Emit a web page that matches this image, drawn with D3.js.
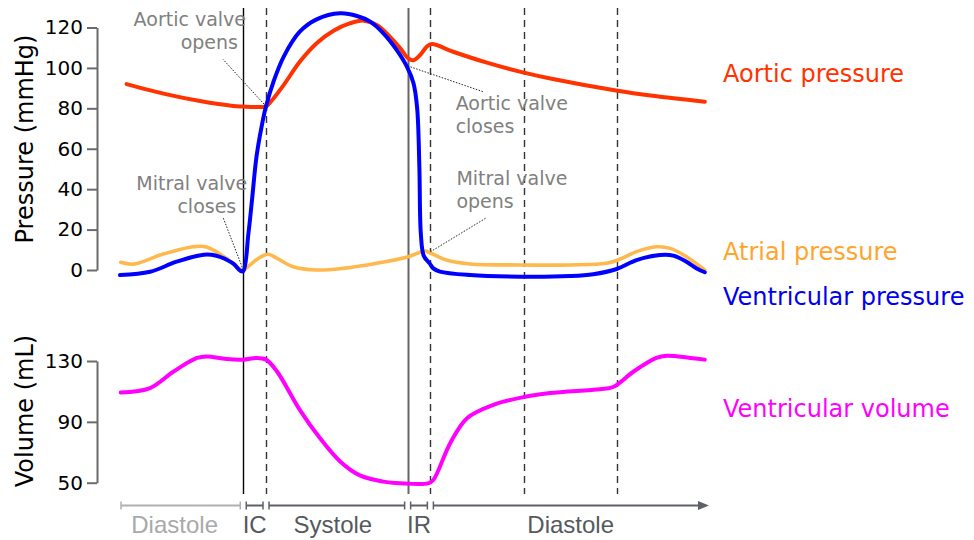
<!DOCTYPE html>
<html>
<head>
<meta charset="utf-8">
<script src="https://cdnjs.cloudflare.com/ajax/libs/d3/7.8.5/d3.min.js"></script>
<style>
  body { margin: 0; background: #fff; }
  svg { display: block; font-family: "DejaVu Sans", sans-serif; }
</style>
</head>
<body>
<svg id="chart" width="974" height="540"></svg>
<script>
// time is in ms from the left edge of the trace, pressure in mmHg, volume in mL

var aorticPressure = [
  [9, 92], [64, 86.9], [109, 83.6], [154, 81.2], [168, 80.9], [184, 80.7], [199, 81],
  [206, 83.5], [223, 91.5], [245, 103], [268, 112.2], [291, 118.4], [313, 122],
  [332, 123.4], [350, 121.2], [368, 115.4], [382, 109.7], [393, 104.7], [400, 103.8],
  [409, 106.4], [418, 110.5], [425, 111.8], [454, 108], [500, 102.6], [549, 97.8],
  [590, 94.5], [676, 88.8], [726, 86.2], [797, 83.3]
];

var ventricularPressure = [
  [0, -2.5], [41, -0.9], [77, 4.1], [114, 7.6], [130, 7.2], [154, 3.3], [164, -0.4], [168, -0.6],
  [175, 18], [180, 35], [186, 56], [193, 71], [199, 81], [209, 93], [223, 105.5],
  [245, 117.9], [268, 124], [300, 127], [323, 125.7], [341, 122.9], [359, 117.1],
  [377, 108.9], [391, 100.6], [400, 92.4], [405, 80], [408, 51], [410, 18], [414, 7],
  [422, 3.3], [427, 0.8], [436, -0.8], [477, -2.5], [545, -3.3], [613, -3.0],
  [645, -2.1], [677, 0.5], [704, 4.9], [736, 7.4], [754, 7.1], [772, 4.1], [786, 0.8], [797, -1.1]
];

var atrialPressure = [
  [1, 3.8], [18, 2.9], [60, 8], [100, 11.5], [118, 11.4], [145, 5.8], [164, 0.4], [168, 0],
  [177, 2.5], [191, 6.3], [202, 7.8], [214, 5.8], [236, 1.6], [268, 0], [304, 0.8],
  [350, 3.3], [393, 6.6], [416, 9.4], [423, 8.4], [445, 4.9], [477, 3.0], [545, 2.5],
  [613, 2.5], [663, 3.3], [681, 5.3], [704, 9.1], [731, 11.5], [750, 10.7], [772, 6.6], [797, 0]
];

var ventricularVolume = [
  [1, 109.3], [41, 112.2], [73, 123.1], [105, 132], [118, 133], [145, 131.3], [168, 130.9],
  [186, 132], [199, 130.9], [214, 123.1], [245, 97.9], [273, 79], [300, 64], [327, 54.8],
  [359, 50.7], [382, 49.6], [420, 49.6], [427, 51.8], [450, 76], [473, 92.4], [509, 101.2],
  [550, 106.3], [586, 108.9], [654, 111.5], [672, 112.9], [700, 123.1], [731, 132],
  [745, 133.5], [777, 132], [797, 130.9]
];

// valve events / phase markers (ms)
var eventTimes = [168, 199, 392, 423, 550, 677];

var phaseNames = ["Diastole", "IC", "Systole", "IR", "Diastole"];
var phaseBounds = [0, 168, 199, 392, 423, 800];

var pressureTicks = [0, 20, 40, 60, 80, 100, 120];
var volumeTicks = [50, 90, 130];

var seriesNames = ["Aortic pressure", "Atrial pressure", "Ventricular pressure", "Ventricular volume"];

var annotations = [
  { lines: ["Aortic valve", "opens"], t: 199, p: 81 },
  { lines: ["Mitral valve", "closes"], t: 168, p: 0 },
  { lines: ["Aortic valve", "closes"], t: 392, p: 101 },
  { lines: ["Mitral valve", "opens"], t: 423, p: 9 }
];

var svg = d3.select("#chart");

var x = d3.scaleLinear().domain([0, 800]).range([120, 707]);
var yP = d3.scaleLinear().domain([0, 120]).range([270, 27.5]);
var yV = d3.scaleLinear().domain([50, 130]).range([482.7, 361]);

var aorticColor = "#ff3300",
    atrialColor = "#ffb84d",
    ventColor = "#0000ff",
    volColor = "#ff00ff";

// --- event lines (behind curves)
svg.append("g").selectAll("line")
  .data(eventTimes)
  .enter()
  .append("line")
  .attr("x1", function(d) { return Math.round(x(d)) + 0.5; })
  .attr("x2", function(d) { return Math.round(x(d)) + 0.5; })
  .attr("y1", 8)
  .attr("y2", 494)
  .attr("stroke", function(d, i) { return i == 0 ? "#000" : (i == 2 ? "#666" : "#333"); })
  .attr("stroke-width", function(d, i) { return i == 2 ? 2 : 1.4; })
  .attr("stroke-dasharray", function(d, i) { return (i == 0 || i == 2) ? null : "7,5"; });

// --- axes
function styleAxis(g) {
  g.select(".domain").attr("stroke", "#6b6b6b").attr("stroke-width", 2);
  g.selectAll(".tick line").attr("stroke", "#6b6b6b").attr("stroke-width", 2);
  g.selectAll(".tick text")
    .attr("fill", "#000")
    .style("font-family", "DejaVu Sans")
    .style("font-size", "20px");
}

svg.append("g")
  .attr("transform", "translate(97,0)")
  .call(d3.axisLeft(yP).tickValues(pressureTicks).tickSize(10).tickSizeOuter(0).tickPadding(4))
  .call(styleAxis);

svg.append("g")
  .attr("transform", "translate(97,0)")
  .call(d3.axisLeft(yV).tickValues(volumeTicks).tickSize(10).tickSizeOuter(0).tickPadding(4))
  .call(styleAxis);

svg.append("text")
  .attr("transform", "translate(33,139) rotate(-90)")
  .attr("text-anchor", "middle")
  .style("font-size", "24px")
  .text("Pressure (mmHg)");

svg.append("text")
  .attr("transform", "translate(33,411) rotate(-90)")
  .attr("text-anchor", "middle")
  .style("font-size", "24px")
  .text("Volume (mL)");

// --- curves (centripetal catmull-rom keeps the sharp valve events without big overshoot)
var smooth = d3.curveCatmullRom.alpha(0.5);

var pLine = d3.line()
  .x(function(d) { return x(d[0]); })
  .y(function(d) { return yP(d[1]); })
  .curve(smooth);

var vLine = d3.line()
  .x(function(d) { return x(d[0]); })
  .y(function(d) { return yV(d[1]); })
  .curve(smooth);

function drawCurve(data, gen, color, width) {
  svg.append("path")
    .datum(data)
    .attr("d", gen)
    .attr("fill", "none")
    .attr("stroke", color)
    .attr("stroke-width", width)
    .attr("stroke-linejoin", "round")
    .attr("stroke-linecap", "round");
}

drawCurve(atrialPressure, pLine, atrialColor, 3.6);
drawCurve(aorticPressure, pLine, aorticColor, 4);
drawCurve(ventricularPressure, pLine, ventColor, 4);
drawCurve(ventricularVolume, vLine, volColor, 4);

// --- valve annotations
var noteLayout = [
  { anchor: "end",   dx: [-20, -28], dy: [-80, -57], lead: [-43, -47] },
  { anchor: "end",   dx: [4, -7],    dy: [-80, -57], lead: [-20, -52] },
  { anchor: "start", dx: [48, 48],   dy: [44, 67],   lead: [76, 26] },
  { anchor: "start", dx: [26, 26],   dy: [-67, -44], lead: [56, -34] }
];

annotations.forEach(function(a, i) {
  var ax = x(a.t), ay = yP(a.p), L = noteLayout[i];
  svg.append("line")
    .attr("x1", ax).attr("y1", ay)
    .attr("x2", ax + L.lead[0]).attr("y2", ay + L.lead[1])
    .attr("stroke", "#222")
    .attr("stroke-width", 1)
    .attr("stroke-dasharray", "1.5,1.5");
  a.lines.forEach(function(s, j) {
    svg.append("text")
      .attr("x", ax + L.dx[j])
      .attr("y", ay + L.dy[j])
      .attr("text-anchor", L.anchor)
      .attr("fill", "#808080")
      .style("font-size", "19px")
      .text(s);
  });
});

// --- legend labels at the right
var legendColors = [aorticColor, "#ffa52e", "#0000ee", volColor];
var legendY = [82, 260, 305, 417];

svg.selectAll(".legend")
  .data(seriesNames)
  .enter()
  .append("text")
  .attr("class", "legend")
  .attr("x", 723)
  .attr("y", function(d, i) { return legendY[i]; })
  .attr("fill", function(d, i) { return legendColors[i]; })
  .style("font-size", "24px")
  .text(function(d) { return d; });

// --- phase bar along the bottom
var barY = 505.5, gap = 3;
var phases = phaseNames.map(function(n, i) {
  return { name: n, x0: x(phaseBounds[i]) + (i == 0 ? 1 : gap), x1: x(phaseBounds[i + 1]) - (i == phaseNames.length - 1 ? -1 : gap) };
});

var pg = svg.append("g");
phases.forEach(function(p, i) {
  var c = i == 0 ? "#b0b0b0" : "#5d6167";
  var last = i == phases.length - 1;
  pg.append("line")
    .attr("x1", p.x0).attr("x2", last ? p.x1 - 6 : p.x1)
    .attr("y1", barY).attr("y2", barY)
    .attr("stroke", c).attr("stroke-width", 2);
  pg.append("line")
    .attr("x1", p.x0).attr("x2", p.x0)
    .attr("y1", barY - 4).attr("y2", barY + 4)
    .attr("stroke", c).attr("stroke-width", 1.5);
  if (!last) {
    pg.append("line")
      .attr("x1", p.x1).attr("x2", p.x1)
      .attr("y1", barY - 4).attr("y2", barY + 4)
      .attr("stroke", c).attr("stroke-width", 1.5);
  } else {
    pg.append("path")
      .attr("d", "M" + (p.x1 + 1) + "," + barY + "l-11,-4.5l0,9z")
      .attr("fill", c);
  }
  pg.append("text")
    .attr("x", (p.x0 + p.x1) / 2 - (i == 0 ? 6 : (i == 2 ? 4 : 0)))
    .attr("y", 533)
    .attr("text-anchor", "middle")
    .attr("fill", i == 0 ? "#a9a9a9" : "#55595e")
    .style("font-family", "'Liberation Sans', Arial, sans-serif")
    .style("font-size", "24px")
    .text(p.name);
});
</script>
</body>
</html>
